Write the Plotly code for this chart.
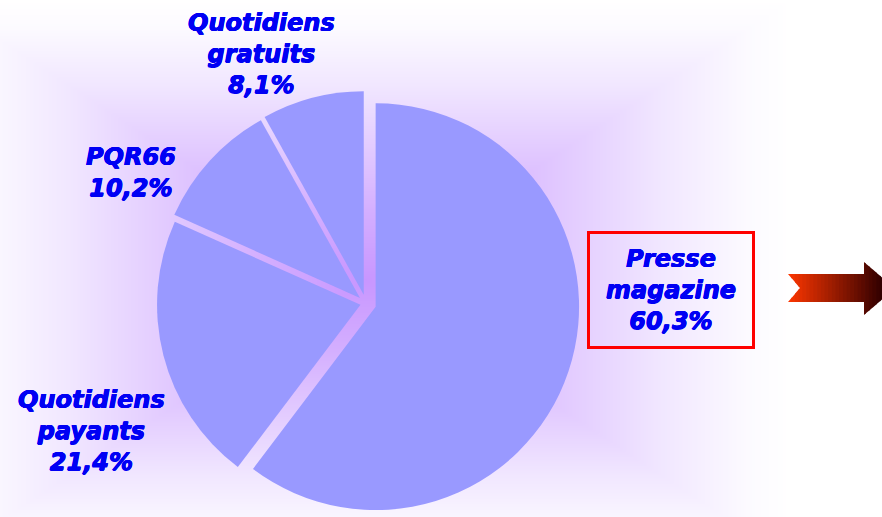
import numpy as np
import plotly.graph_objects as go

# ---- data ----
categories = ["Presse magazine", "Quotidiens payants", "PQR66", "Quotidiens gratuits"]
values = [60.3, 21.4, 10.2, 8.1]
label_lines = [["Presse", "magazine"], ["Quotidiens", "payants"], ["PQR66"], ["Quotidiens", "gratuits"]]

W, H = 882, 517

# ---- styles ----
pulls = [0.05, 0.028, 0.04, 0.044]
slice_color = "#9999FF"
text_color = "#0000F4"
font_family = "DejaVu Sans, Verdana, sans-serif"
# label centres in pixels (x, y from top)
label_pos = [(671, 290), (91, 431), (131, 172), (261, 54)]

fig = go.Figure()

# background rectangular glow
step = 3
gx = np.arange(0, W + step, step, dtype=float)
gy = np.arange(0, H + step, step, dtype=float)
XX, YY = np.meshgrid(gx, gy)
cx, cy, hw, hh = 365.0, 280.0, 425.0, 280.0
Z = np.clip(np.maximum(np.abs(XX - cx) / hw, np.abs(YY - cy) / hh), 0, 1)
fig.add_trace(go.Heatmap(
    x=gx, y=gy, z=Z, zmin=0, zmax=1, zsmooth="best", showscale=False, hoverinfo="skip",
    colorscale=[[0, "rgb(200,150,255)"], [0.25, "rgb(212,175,255)"], [0.45, "rgb(225,200,255)"],
                [0.7, "rgb(241,231,255)"], [0.9, "rgb(252,250,255)"], [1, "rgb(255,255,255)"]],
))

# pie
r_box = 213.6
pcx = 366.0
fig.add_trace(go.Pie(
    labels=categories, values=values, sort=False, direction="clockwise", rotation=0,
    pull=pulls, marker=dict(colors=[slice_color] * 4, line=dict(width=0)),
    textinfo="none", hoverinfo="skip", showlegend=False,
    domain=dict(x=[(pcx - 215) / W, (pcx + 215) / W], y=[0, 2 * r_box / H]),
))

# labels
shadow = (f"0.45px 0px 0px {text_color}, -0.45px 0px 0px {text_color}, "
          f"0px 0.4px 0px {text_color}, 0px -0.4px 0px {text_color}")
for cat, lines, v, (lx, ly) in zip(categories, label_lines, values, label_pos):
    txt = "<br>".join(lines + [f"{v:.1f}".replace(".", ",") + "%"])
    ann = dict(
        text=f"<b><i>{txt}</i></b>", x=lx / W, y=1 - ly / H, xref="paper", yref="paper",
        xanchor="center", yanchor="middle", showarrow=False, align="center",
        font=dict(family=font_family, size=24, color=text_color, weight=700, style="italic",
                  shadow=shadow),
    )
    if cat == "Presse magazine":
        ann.update(bordercolor="#FF0000", borderwidth=3, borderpad=11, width=140)
    fig.add_annotation(**ann)

# decorative gradient arrow (right side), built as vertical strips
arrow = [(788, 274), (864, 274), (864, 262), (895, 288.5), (864, 315), (864, 302), (788, 302), (800, 288)]


def clip_x(poly, x0, x1):
    def clip(p, inside, inter):
        out = []
        for i in range(len(p)):
            a, b = p[i - 1], p[i]
            ia, ib = inside(a), inside(b)
            if ib:
                if not ia:
                    out.append(inter(a, b))
                out.append(b)
            elif ia:
                out.append(inter(a, b))
        return out

    def ix(xc):
        return lambda a, b: (xc, a[1] + (b[1] - a[1]) * (xc - a[0]) / (b[0] - a[0]))

    p = clip(poly, lambda q: q[0] >= x0, ix(x0))
    if p:
        p = clip(p, lambda q: q[0] <= x1, ix(x1))
    return p


c0, c1 = np.array([255, 55, 0]), np.array([50, 0, 0])
xs = np.linspace(788, 895, 30)
for a, b in zip(xs[:-1], xs[1:]):
    poly = clip_x(arrow, a - 0.4, b + 0.4)
    if len(poly) < 3:
        continue
    t = ((a + b) / 2 - 788) / (882 - 788)
    t = min(max(t, 0), 1)
    col = c0 + (c1 - c0) * t
    path = "M " + " L ".join(f"{px:.2f},{py:.2f}" for px, py in poly) + " Z"
    fig.add_shape(type="path", path=path, xref="x", yref="y", line=dict(width=0),
                  fillcolor=f"rgb({int(col[0])},{int(col[1])},{int(col[2])})", layer="above")

fig.update_layout(
    width=W, height=H, margin=dict(l=0, r=0, t=0, b=0),
    paper_bgcolor="white", plot_bgcolor="white",
    xaxis=dict(range=[0, W], visible=False, fixedrange=True),
    yaxis=dict(range=[H, 0], visible=False, fixedrange=True),
    modebar=dict(bgcolor="rgba(0,0,0,0)", color="rgba(0,0,0,0)", activecolor="rgba(0,0,0,0)"),
)

post = (
    "document.body.style.margin='0px';document.body.style.overflow='hidden';"
    "var s=document.createElement('style');"
    "s.innerHTML='.modebar-container{display:none !important;}';"
    "document.head.appendChild(s);"
)
fig.write_html("out.html", post_script=post)
